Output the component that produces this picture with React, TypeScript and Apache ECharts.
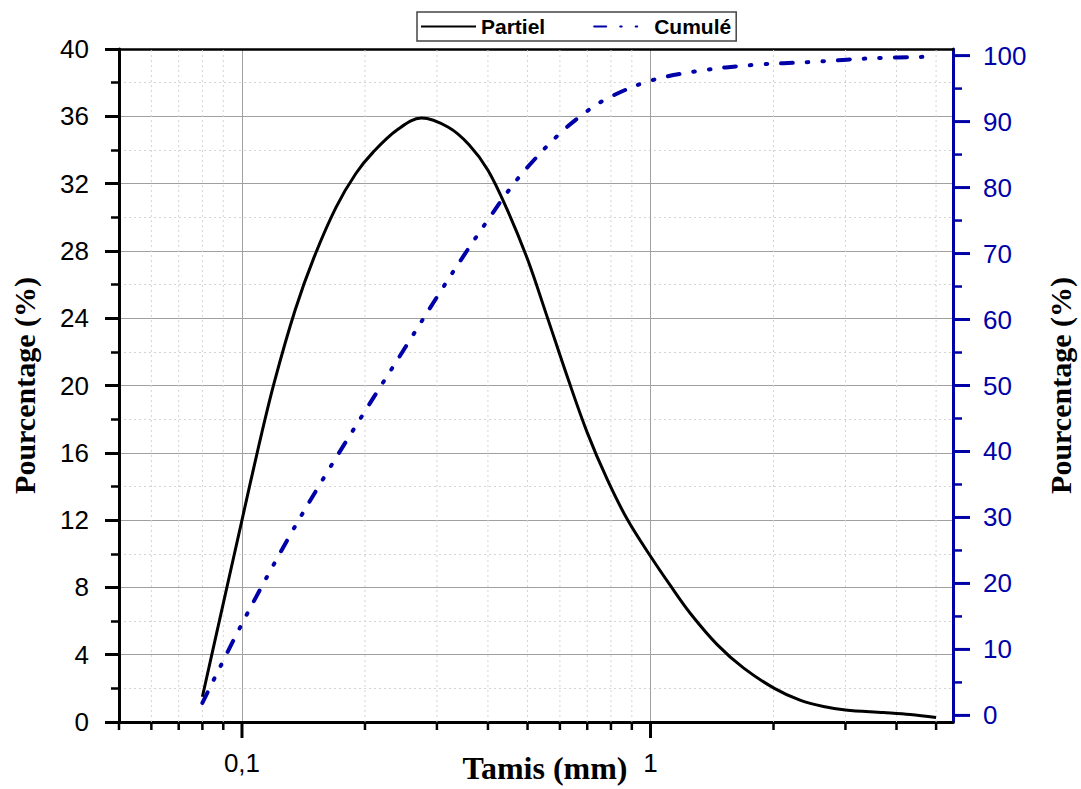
import React, { useEffect, useRef } from "react";
import * as echarts from "echarts";

// ---- data ----
const partielX = [0.08, 0.09, 0.1, 0.11, 0.12, 0.135, 0.15, 0.17, 0.19, 0.21, 0.24, 0.275, 0.32, 0.36, 0.4, 0.445, 0.5, 0.559, 0.626, 0.7, 0.784, 0.877, 1.0, 1.119, 1.252, 1.456, 1.691, 2.01, 2.33, 2.65, 3.0, 3.72, 4.32, 5.0];
const partielY = [1.5, 7.05, 12.0, 16.45, 20.2, 24.5, 27.6, 30.6, 32.6, 33.9, 35.2, 35.9, 35.35, 34.3, 32.8, 30.5, 27.5, 24.05, 20.5, 17.2, 14.4, 12.05, 9.85, 8.1, 6.45, 4.6, 3.2, 2.0, 1.28, 0.92, 0.72, 0.56, 0.44, 0.27];

const cumuleX = [0.08, 0.1, 0.13, 0.16, 0.2, 0.25, 0.3, 0.35, 0.4, 0.45, 0.5, 0.6, 0.7, 0.8, 1.0, 1.3, 1.8, 2.5, 3.5, 5.0];
const cumuleY = [1.9, 13.9, 26.9, 36.4, 46.1, 55.6, 63.4, 69.8, 75.1, 79.6, 83.1, 88.2, 91.6, 93.8, 96.2, 97.65, 98.6, 99.05, 99.6, 99.85];

const xMajorTicks = [0.1, 1];
const xTickLabels = ["0,1", "1"];
const xMinorTicks = [0.05, 0.06, 0.07, 0.08, 0.09, 0.2, 0.3, 0.4, 0.5, 0.6, 0.7, 0.8, 0.9, 2, 3, 4, 5];
const rightTicks = [0, 5, 10, 15, 20, 25, 30, 35, 40, 45, 50, 55, 60, 65, 70, 75, 80, 85, 90, 95, 100];
const rightLabels = [0, 10, 20, 30, 40, 50, 60, 70, 80, 90, 100];

const X_MIN = 0.05;
const X_MAX = 5.5;
const SANS = '"Liberation Sans", Arial, sans-serif';
const SERIF = '"Liberation Serif", "Times New Roman", serif';
const BLUE = "#0000a8";

export default function App() {
  const ref = useRef<HTMLDivElement>(null);

  useEffect(() => {
    if (!ref.current) return;
    const chart = echarts.init(ref.current, null, { renderer: "svg" });

    const xLabel = (v: number) => {
      for (let i = 0; i < xMajorTicks.length; i++) {
        if (Math.abs(Math.log10(v) - Math.log10(xMajorTicks[i])) < 1e-6) return xTickLabels[i];
      }
      return "";
    };
    const rLabel = (v: number) => {
      for (const r of rightLabels) if (Math.abs(v - r) < 1e-6) return String(r);
      return "";
    };

    const option: any = {
      animation: false,
      backgroundColor: "#fff",
      grid: { left: 119, right: 128, top: 49, bottom: 67, containLabel: false, outerBoundsMode: "none" },
      legend: {
        left: 417,
        top: 12,
        data: ["Partiel", "Cumulé"],
        itemWidth: 55,
        itemHeight: 14,
        itemGap: 48,
        padding: [4, 5, 4, 3],
        borderColor: "#444",
        borderWidth: 1.5,
        itemStyle: { opacity: 0 },
        textStyle: { fontFamily: SANS, fontWeight: "bold", fontSize: 21, color: "#000" },
      },
      xAxis: [
        {
          type: "log",
          logBase: 10,
          min: X_MIN,
          max: X_MAX,
          position: "bottom",
          name: "Tamis (mm)",
          nameLocation: "middle",
          nameGap: 30,
          nameMoveOverlap: false,
          nameTextStyle: { fontFamily: SERIF, fontWeight: "bold", fontSize: 32, color: "#000", padding: [0, 0, 0, 18] },
          axisLine: { show: true, onZero: false, lineStyle: { color: "#000", width: 3 } },
          axisTick: { show: false },
          axisLabel: { formatter: xLabel, margin: 28, fontSize: 26, fontFamily: SANS, color: "#000", showMinLabel: false, showMaxLabel: false },
          splitLine: { show: true, lineStyle: { color: "#a0a0a0", width: 1 } },
        },
        {
          type: "log",
          logBase: 10,
          min: X_MIN,
          max: X_MAX,
          position: "top",
          axisLine: { show: true, onZero: false, lineStyle: { color: "#000", width: 2.5 } },
          axisTick: { show: false },
          axisLabel: { show: false },
          splitLine: { show: false },
        },
      ],
      yAxis: [
        {
          type: "value",
          min: 0,
          max: 40,
          interval: 4,
          position: "left",
          name: "Pourcentage (%)",
          nameLocation: "middle",
          nameGap: 80,
          nameMoveOverlap: false,
          nameTextStyle: { fontFamily: SERIF, fontWeight: "bold", fontSize: 30, color: "#000" },
          axisLine: { show: true, onZero: false, lineStyle: { color: "#000", width: 3 } },
          axisTick: { show: true, length: 14, lineStyle: { color: "#000", width: 3 } },
          minorTick: { show: true, splitNumber: 2, length: 8, lineStyle: { color: "#000", width: 2.5 } },
          axisLabel: { margin: 30, fontSize: 26, fontFamily: SANS, color: "#000" },
          splitLine: { show: true, lineStyle: { color: "#a0a0a0", width: 1 } },
          minorSplitLine: { show: true, lineStyle: { color: "#d4d4d4", width: 1, type: [2, 3] } },
        },
        {
          type: "value",
          min: -1,
          max: 101,
          splitNumber: 10,
          position: "right",
          name: "Pourcentage (%)",
          nameLocation: "middle",
          nameGap: 92,
          nameMoveOverlap: false,
          nameTextStyle: { fontFamily: SERIF, fontWeight: "bold", fontSize: 30, color: "#000" },
          axisLine: { show: true, onZero: false, lineStyle: { color: BLUE, width: 3 } },
          axisTick: { show: false },
          axisLabel: { formatter: rLabel, margin: 30, fontSize: 26, fontFamily: SANS, color: BLUE },
          splitLine: { show: false },
        },
      ],
      series: [
        {
          type: "custom",
          name: "xticks",
          xAxisIndex: 0,
          yAxisIndex: 0,
          clip: false,
          silent: true,
          z: 1,
          data: [
            ...xMinorTicks.map((v) => [v, 0, 0]),
            ...xMajorTicks.map((v) => [v, 0, 1]),
          ],
          renderItem: (params: any, api: any) => {
            const v = api.value(0);
            const major = api.value(2) === 1;
            const p0 = api.coord([v, 0]);
            const p1 = api.coord([v, 40]);
            const children: any[] = [];
            if (!major && v > X_MIN * 1.001 && v < X_MAX * 0.999) {
              children.push({
                type: "line",
                shape: { x1: p0[0], y1: p0[1], x2: p1[0], y2: p1[1] },
                style: { stroke: "#d4d4d4", lineWidth: 1, lineDash: [2, 3] },
              });
            }
            children.push({
              type: "line",
              shape: { x1: p0[0], y1: p0[1], x2: p0[0], y2: p0[1] + (major ? 16 : 8) },
              style: { stroke: "#000", lineWidth: major ? 3 : 2.5 },
            });
            return { type: "group", children };
          },
        },
        {
          type: "custom",
          name: "rticks",
          xAxisIndex: 0,
          yAxisIndex: 1,
          clip: false,
          silent: true,
          z: 5,
          data: rightTicks.map((v) => [X_MAX, v]),
          renderItem: (params: any, api: any) => {
            const v = api.value(1);
            const p = api.coord([X_MAX, v]);
            const major = Math.abs(v % 10) < 1e-6;
            return {
              type: "line",
              shape: { x1: p[0], y1: p[1], x2: p[0] + (major ? 17 : 9), y2: p[1] },
              style: { stroke: BLUE, lineWidth: major ? 3 : 2.5 },
            };
          },
        },
        {
          type: "line",
          name: "Partiel",
          xAxisIndex: 0,
          yAxisIndex: 0,
          data: partielX.map((x, i) => [x, partielY[i]]),
          symbol: "circle",
          showSymbol: false,
          smooth: 0.35,
          z: 3,
          lineStyle: { color: "#000", width: 3 },
          itemStyle: { color: "#000" },
        },
        {
          type: "line",
          name: "Cumulé",
          xAxisIndex: 0,
          yAxisIndex: 1,
          data: cumuleX.map((x, i) => [x, cumuleY[i]]),
          symbol: "circle",
          showSymbol: false,
          smooth: 0.35,
          z: 3,
          lineStyle: { color: BLUE, width: 4, type: [12, 14, 1.5, 14, 1.5, 14], cap: "round" },
          itemStyle: { color: BLUE },
        },
      ],
    };

    chart.setOption(option);
    return () => chart.dispose();
  }, []);

  return (
    <div
      ref={ref}
      style={{ position: "absolute", left: 0, top: 0, width: 1081, height: 789, background: "#fff" }}
    />
  );
}
